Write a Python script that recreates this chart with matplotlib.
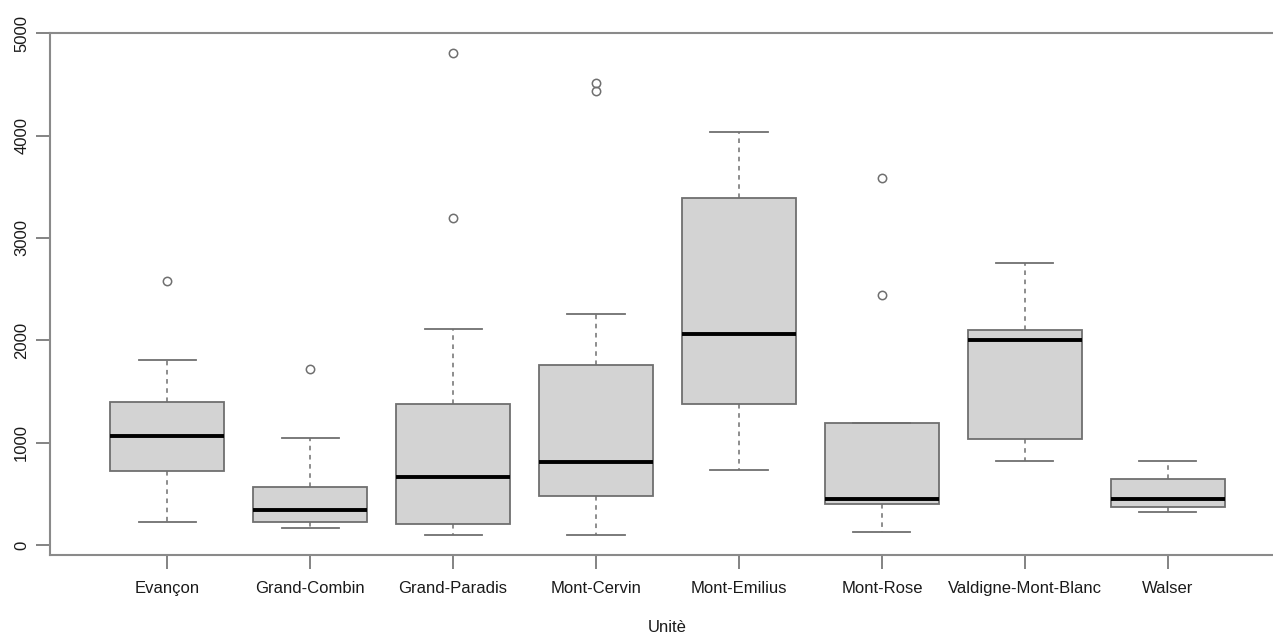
import matplotlib
matplotlib.use("Agg")
import matplotlib.pyplot as plt

plt.rcParams['font.family'] = ['Liberation Sans', 'DejaVu Sans']

unites = ['Evançon', 'Grand-Combin', 'Grand-Paradis', 'Mont-Cervin',
          'Mont-Emilius', 'Mont-Rose', 'Valdigne-Mont-Blanc', 'Walser']
whislo = [228, 169, 98, 101, 729, 127, 817, 325]
q1 = [720, 222, 205, 482, 1374, 404, 1035, 371]
med = [1067, 342, 667, 814, 2061, 453, 2005, 446]
q3 = [1396, 570, 1377, 1758, 3389, 1191, 2100, 641]
whishi = [1807, 1045, 2106, 2256, 4037, 1191, 2757, 817]
outliers = [[2578], [1716], [3193, 4811], [4434, 4518], [], [2445, 3590], [], []]
y_ticks = [0, 1000, 2000, 3000, 4000, 5000]

gris = '#6f6f6f'

stats = []
for i, nom in enumerate(unites):
    stats.append({'label': nom, 'whislo': whislo[i], 'q1': q1[i], 'med': med[i],
                  'q3': q3[i], 'whishi': whishi[i], 'fliers': outliers[i]})

fig = plt.figure(figsize=(12.73, 6.33), dpi=100)
ax = fig.add_axes([50 / 1273, 1 - 555 / 633, 1235 / 1273, 522 / 633])

ax.bxp(stats, positions=range(1, len(unites) + 1), widths=0.8, patch_artist=True,
       boxprops=dict(facecolor='#d3d3d3', edgecolor=gris, linewidth=1.3),
       medianprops=dict(color='black', linewidth=2.8, solid_capstyle='butt'),
       whiskerprops=dict(color=gris, linewidth=1.1, linestyle=(0, (3, 3))),
       capprops=dict(color=gris, linewidth=1.3),
       capwidths=0.4,
       flierprops=dict(marker='o', markerfacecolor='none', markeredgecolor=gris,
                       markersize=6, markeredgewidth=1.1))

ax.set_xlim(0.18, 8.82)
ax.set_ylim(-98, 5002)
ax.set_yticks(y_ticks)
ax.set_yticklabels([str(t) for t in y_ticks], rotation=90, va='center')
ax.set_xlabel('Unitè', fontsize=12, labelpad=17, color='#1a1a1a')

for s in ['left', 'top', 'bottom']:
    ax.spines[s].set_color('#8a8a8a')
    ax.spines[s].set_linewidth(1.5)
ax.spines['right'].set_visible(False)
ax.tick_params(axis='both', direction='out', length=10, width=1.3, color='#7a7a7a',
               labelsize=12, labelcolor='#1a1a1a')
ax.tick_params(axis='x', pad=9)
ax.tick_params(axis='y', pad=5)

fig.savefig('out.png', dpi=100)
